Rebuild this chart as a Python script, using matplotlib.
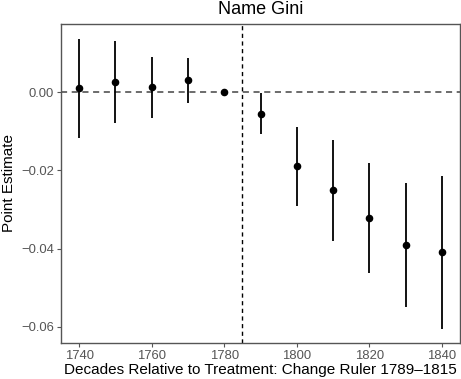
import matplotlib
matplotlib.use("Agg")
import matplotlib.pyplot as plt

plt.rcParams['font.family'] = ['Liberation Sans', 'DejaVu Sans']

# event-study estimates
decades = [1740, 1750, 1760, 1770, 1780, 1790, 1800, 1810, 1820, 1830, 1840]
estimate = [0.0009, 0.0025, 0.0013, 0.0030, 0.0, -0.0056, -0.0189, -0.0250, -0.0323, -0.0391, -0.0409]
ci_low = [-0.0118, -0.0079, -0.0066, -0.0027, 0.0, -0.0108, -0.0290, -0.0380, -0.0463, -0.0550, -0.0606]
ci_high = [0.0135, 0.0129, 0.0090, 0.0086, 0.0, -0.0003, -0.0090, -0.0122, -0.0182, -0.0232, -0.0215]
treat_line = 1785
xticks = [1740, 1760, 1780, 1800, 1820, 1840]
yticks = [0.00, -0.02, -0.04, -0.06]

fig = plt.figure(figsize=(4.61, 3.79), dpi=100)
ax = fig.add_axes([0.1323, 0.095, 0.866, 0.842])

ax.axhline(0, color="#444444", linestyle=(0, (4, 3)), linewidth=1.1, zorder=1)
ax.axvline(treat_line, color="black", linestyle=(0, (3, 2.5)), linewidth=1.0, zorder=1)

for x, lo, hi in zip(decades, ci_low, ci_high):
    if hi > lo:
        ax.vlines(x, lo, hi, color="black", linewidth=1.3, zorder=2)
ax.scatter(decades, estimate, s=20, color="black", zorder=3)

ax.set_xlim(1735, 1845)
ax.set_ylim(-0.0641, 0.0174)
ax.set_xticks(xticks)
ax.set_yticks(yticks)
ax.set_yticklabels(["0.00", "\u22120.02", "\u22120.04", "\u22120.06"])

for s in ax.spines.values():
    s.set_color("#555555")
    s.set_linewidth(1.0)
ax.tick_params(colors="#555555", labelcolor="#555555", labelsize=9.4, length=3, width=0.8, pad=2)

ax.set_xlabel("Decades Relative to Treatment: Change Ruler 1789\u20131815", fontsize=11, labelpad=1)
ax.set_ylabel("Point Estimate", fontsize=11, labelpad=4)
ax.set_title("Name Gini", fontsize=13, pad=7)

fig.savefig("out.png", dpi=100)
